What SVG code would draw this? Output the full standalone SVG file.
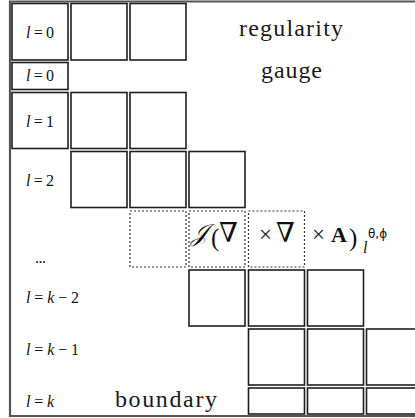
<svg xmlns="http://www.w3.org/2000/svg" width="415" height="418" viewBox="0 0 415 418">
<style>
.b{fill:#fff;stroke:#1e1e1e;stroke-width:1.6}
.d{fill:none;stroke:#333;stroke-width:1.2;stroke-dasharray:2 2}
.lab{font-family:"Liberation Serif","DejaVu Serif",serif;font-size:16px;fill:#111}
.it{font-style:italic}
.big{font-family:"Liberation Serif","DejaVu Serif",serif;font-size:24px;fill:#1a1a1a}
.m{font-family:"Liberation Serif","DejaVu Serif",serif;fill:#111}
</style>
<rect width="415" height="418" fill="#fff"/>
<g id="frame">
<path d="M415 1.5H10V416H415" fill="none" stroke="#555" stroke-width="2.2"/>
</g>
<g id="row-l0">
<rect class="b" x="12" y="3.5" width="56" height="56.5"/>
<rect class="b" x="71" y="3.5" width="56" height="56.5"/>
<rect class="b" x="130" y="3.5" width="56" height="56.5"/>
<text class="lab" x="26" y="38" textLength="28"><tspan class="it">l</tspan>=0</text>
</g>
<g id="row-gauge">
<rect class="b" x="12" y="62.5" width="56" height="27"/>
<text class="lab" x="26" y="81" textLength="28"><tspan class="it">l</tspan>=0</text>
</g>
<g id="row-l1">
<rect class="b" x="12" y="92.5" width="56" height="56"/>
<rect class="b" x="71" y="92.5" width="56" height="56"/>
<rect class="b" x="130" y="92.5" width="56" height="56"/>
<text class="lab" x="26" y="127" textLength="28"><tspan class="it">l</tspan>=1</text>
</g>
<g id="row-l2">
<rect class="b" x="71" y="151.5" width="56" height="56"/>
<rect class="b" x="130" y="151.5" width="56" height="56"/>
<rect class="b" x="189" y="151.5" width="56" height="56"/>
<text class="lab" x="26" y="186" textLength="28"><tspan class="it">l</tspan>=2</text>
</g>
<g id="row-dots">
<rect class="d" x="130" y="211" width="56" height="56"/>
<rect class="d" x="189" y="211" width="56" height="56"/>
<rect class="d" x="248.5" y="211" width="56" height="56"/>
<text class="lab" x="35" y="263" textLength="11">...</text>
</g>
<g id="formula">
<text class="m" y="241">
<tspan x="191" font-size="24" font-style="italic">𝒥</tspan>
<tspan x="211" y="246" font-size="25">(</tspan>
<tspan x="219" y="242" font-size="27">∇</tspan>
<tspan x="259" font-size="23">×</tspan>
<tspan x="276" y="242" font-size="27">∇</tspan>
<tspan x="312" font-size="23">×</tspan>
<tspan x="331" font-size="22" font-weight="bold">A</tspan>
<tspan x="349" y="246" font-size="25">)</tspan>
</text>
<text class="lab it" x="363" y="253" font-size="14">l</text>
<text x="368" y="238" font-family="'DejaVu Sans',sans-serif" font-size="12" fill="#111">θ,ϕ</text>
</g>
<g id="row-k2">
<rect class="b" x="189" y="270" width="56" height="56"/>
<rect class="b" x="248.5" y="270" width="56" height="56"/>
<rect class="b" x="307.5" y="270" width="56" height="56"/>
<text class="lab" x="26" y="303" textLength="53"><tspan class="it">l</tspan>=<tspan class="it">k</tspan>−2</text>
</g>
<g id="row-k1">
<rect class="b" x="248.5" y="329" width="56" height="56"/>
<rect class="b" x="307.5" y="329" width="56" height="56"/>
<rect class="b" x="366.5" y="329" width="56" height="56"/>
<text class="lab" x="26" y="355" textLength="53"><tspan class="it">l</tspan>=<tspan class="it">k</tspan>−1</text>
</g>
<g id="row-k">
<rect class="b" x="248.5" y="388" width="56" height="26"/>
<rect class="b" x="307.5" y="388" width="56" height="26"/>
<rect class="b" x="366.5" y="388" width="56" height="26"/>
<text class="lab" x="26" y="407" textLength="28"><tspan class="it">l</tspan>=<tspan class="it">k</tspan></text>
</g>
<g id="labels">
<text class="big" x="239" y="36" textLength="104">regularity</text>
<text class="big" x="261" y="78" textLength="61">gauge</text>
<text class="big" x="115" y="407" textLength="102">boundary</text>
</g>
</svg>
